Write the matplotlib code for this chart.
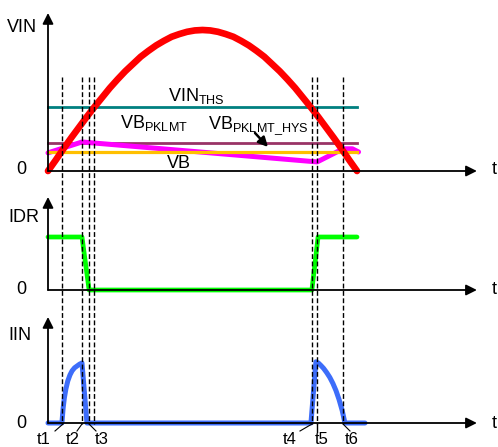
import matplotlib
matplotlib.use('Agg')
import matplotlib.pyplot as plt
from matplotlib.transforms import blended_transform_factory

plt.rcParams['font.family'] = ['Liberation Sans', 'DejaVu Sans']
plt.rcParams['mathtext.fontset'] = 'custom'
plt.rcParams['mathtext.rm'] = 'Liberation Sans'
plt.rcParams['mathtext.it'] = 'Liberation Sans'
plt.rcParams['mathtext.bf'] = 'Liberation Sans'

# time in ms over one rectified half cycle
vin_t = [0, 0.25, 0.5, 0.75, 1, 1.25, 1.5, 1.75, 2, 2.25, 2.5, 2.75, 3, 3.25, 3.5,
         3.75, 4, 4.25, 4.5, 4.75, 5, 5.25, 5.5, 5.75, 6, 6.25, 6.5, 6.75, 7,
         7.25, 7.5, 7.75, 8, 8.25, 8.5, 8.75, 9, 9.25, 9.5, 9.75, 10]
vin_v = [0, 24, 49, 73, 96, 119, 141, 162, 183, 202, 220, 236, 252, 265, 277,
         287, 296, 302, 307, 310, 311, 310, 307, 302, 296, 287, 277, 265, 252,
         236, 220, 202, 183, 162, 141, 119, 96, 73, 49, 24, 0]
level_t = [0, 10]
vin_ths = 141
vb_pklmt = 62
vb_level = 43
vb_t = [0, 1.10, 8.71, 9.55, 9.85, 10.05]
vb_v = [40, 64, 20, 49, 49, 42]

idr_t = [0, 1.10, 1.33, 8.54, 8.74, 10.0]
idr_v = [1, 1, 0, 0, 1, 1]

iin_t = [0, 0.45, 0.49, 0.53, 0.58, 0.64, 0.71, 0.78, 0.86, 0.94, 1.02, 1.10, 1.26,
         8.51, 8.67, 8.75, 8.83, 8.92, 9.02, 9.12, 9.22, 9.32, 9.42, 9.52, 9.61, 10.26]
iin_v = [0, 0, 0.25, 0.42, 0.57, 0.70, 0.80, 0.87, 0.92, 0.95, 0.98, 1.00, 0,
         0, 1.02, 1.00, 0.96, 0.91, 0.84, 0.76, 0.66, 0.54, 0.39, 0.21, 0, 0]

event_t = [0.45, 1.10, 1.34, 1.50, 8.54, 8.71, 9.55]
event_names = ['t1', 't2', 't3', 't4', 't5', 't6']

W, H = 498, 447
X0, PX_MS = 48, 30.9
T_END = 13.88

fig = plt.figure(figsize=(W / 100, H / 100), dpi=100)


def panel(zero_px, px_per_unit):
    ax = fig.add_axes([0, 0, 1, 1])
    ax.set_xlim(-X0 / PX_MS, (W - X0) / PX_MS)
    ax.set_ylim((zero_px - H) / px_per_unit, zero_px / px_per_unit)
    ax.axis('off')
    ax.patch.set_alpha(0)
    return ax


def axes_arrows(ax, top):
    style = dict(arrowstyle='-|>', color='black', lw=1.3, mutation_scale=16,
                 shrinkA=0, shrinkB=0)
    ax.annotate('', xy=(T_END, 0), xytext=(0, 0), arrowprops=style)
    ax.annotate('', xy=(0, top), xytext=(0, 0), arrowprops=style)


ax1 = panel(171, 0.4534)
axes_arrows(ax1, 348.5)
ax1.plot(level_t, [vin_ths] * 2, color='#008080', lw=2.0)
ax1.plot(level_t, [vb_pklmt] * 2, color='#993366', lw=2.0)
ax1.plot(vb_t, vb_v, color='#ff00ff', lw=3.6, solid_capstyle='round', solid_joinstyle='round')
ax1.plot(level_t, [vb_level] * 2, color='#ffc000', lw=2.3)
ax1.plot(vin_t, vin_v, color='#ff0000', lw=4.8, solid_capstyle='round', solid_joinstyle='round')

ax2 = panel(290, 53)
axes_arrows(ax2, 1.755)
ax2.plot(idr_t, idr_v, color='#00ff00', lw=3.4, solid_capstyle='round')

ax3 = panel(423, 60)
axes_arrows(ax3, 1.767)
ax3.plot(iin_t, iin_v, color='#3d6dfa', lw=3.6, solid_capstyle='round', solid_joinstyle='round')

# overlay in pixel coordinates for labels and markers
ov = fig.add_axes([0, 0, 1, 1])
ov.set_xlim(0, W)
ov.set_ylim(H, 0)
ov.axis('off')
ov.patch.set_alpha(0)
mix = blended_transform_factory(ax1.transData, ov.transData)
for t in event_t:
    ov.plot([t, t], [77, 424], color='black', lw=1.0, ls=(0, (3.5, 1.8)), transform=mix)
ov.plot([event_t[5]] * 2, [424, 432], color='black', lw=1.0, transform=mix)

leaders = [((55, 431), (63, 424)), ((77, 431), (82, 424)), ((89, 424), (96, 431)),
           ((300, 431), (312, 424)), ((343, 424), (350, 431))]
for a, b in leaders:
    ov.plot([a[0], b[0]], [a[1], b[1]], color='black', lw=0.8)

fs = 13
label_x = [43.5, 73, 102, 290, 322, 352]
for name, x in zip(event_names, label_x):
    ov.text(x, 443.5, name, fontsize=12, ha='center', va='baseline')

for y in (170, 290, 423):
    ov.text(21, y, '0', fontsize=fs, ha='center', va='center')
    ov.text(494, y, 't', fontsize=fs, ha='center', va='center')
ov.text(7, 28, 'VIN', fontsize=fs, ha='left', va='center')
ov.text(8, 217, 'IDR', fontsize=fs, ha='left', va='center')
ov.text(8, 335, 'IIN', fontsize=fs, ha='left', va='center')

ov.text(168, 101, r'$\mathrm{VIN}_{\mathrm{THS}}$', fontsize=fs, ha='left', va='baseline')
ov.text(120, 128, r'$\mathrm{VB}_{\mathrm{PKLMT}}$', fontsize=fs, ha='left', va='baseline')
ov.text(208, 129, r'$\mathrm{VB}_{\mathrm{PKLMT\_HYS}}$', fontsize=fs, ha='left', va='baseline')
ov.text(167, 168, 'VB', fontsize=fs, ha='left', va='baseline')
ov.annotate('', xy=(268, 147), xytext=(255, 133),
            arrowprops=dict(arrowstyle='-|>', color='black', lw=1.8, mutation_scale=14,
                            shrinkA=0, shrinkB=0))

fig.savefig('out.png', dpi=100)
